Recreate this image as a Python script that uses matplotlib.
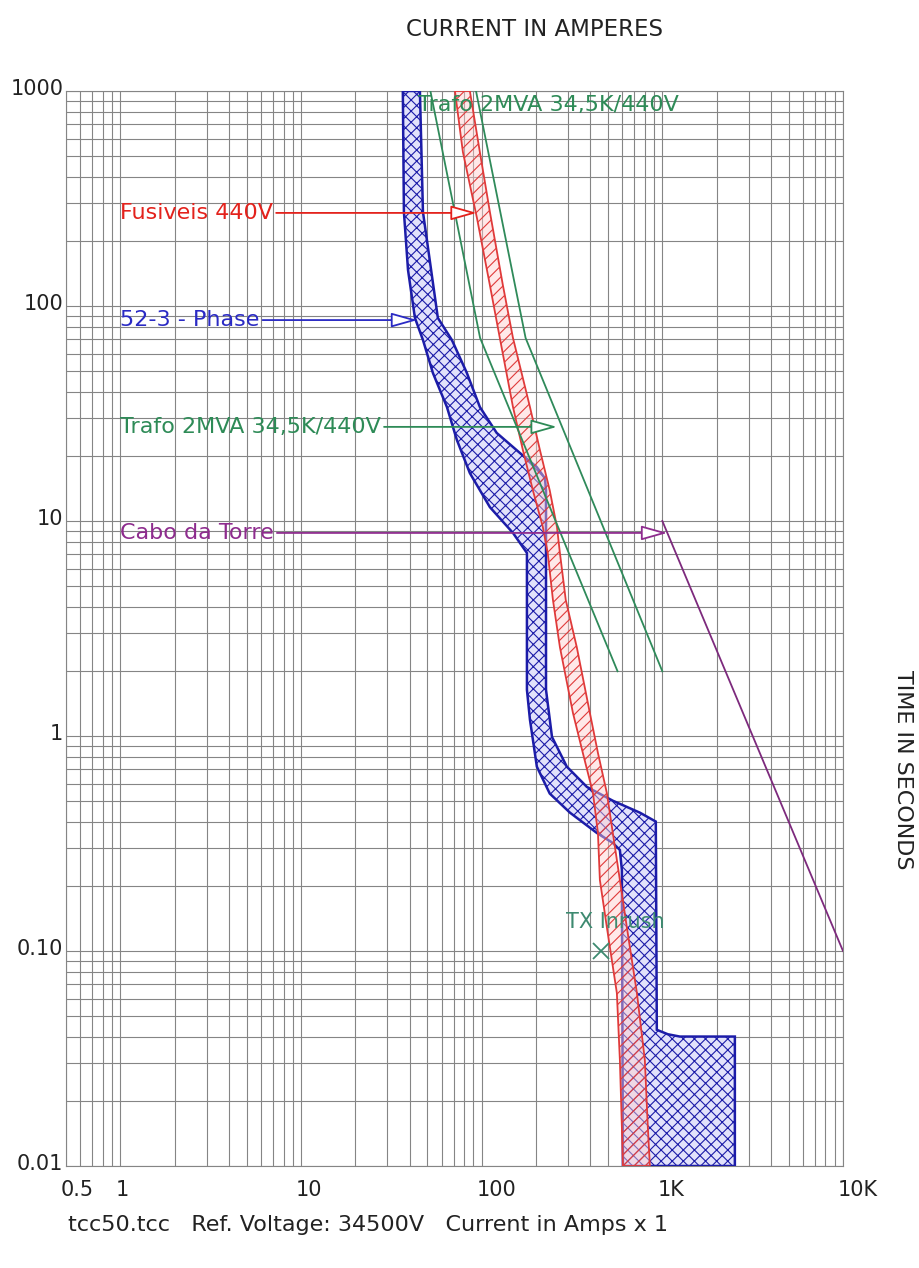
import numpy as np
import matplotlib
matplotlib.use('Agg')
import matplotlib.pyplot as plt
from matplotlib import ticker, transforms

# 52-3 phase relay band (min / max curve), amps vs seconds
blue_lo_amps = [36.6, 37.1, 39.1, 42.7, 47.3, 53.7, 64.2, 72.9, 86, 111, 149, 178, 178, 185, 202, 238, 308, 434, 532, 582, 597, 605]
blue_lo_secs = [1000, 274, 147, 88, 69.5, 48.8, 33.9, 23.8, 16.7, 11.6, 8.8, 7.1, 1.64, 1.19, 0.72, 0.54, 0.44, 0.354, 0.318, 0.295, 0.238, 0.01]
blue_hi_amps = [45.5, 47.3, 57.2, 68.4, 82.8, 97.7, 121, 163, 202, 224, 227, 227, 245, 296, 382, 532, 751, 920, 932, 1073, 1250, 2520, 2520]
blue_hi_secs = [1000, 274, 88, 69.5, 48.8, 33.9, 25.7, 20.7, 17.8, 15.8, 13.9, 1.64, 0.99, 0.72, 0.58, 0.50, 0.44, 0.40, 0.043, 0.041, 0.040, 0.040, 0.01]

# fuses 440V band
red_lo_amps = [71.1, 78.7, 94.1, 111, 126, 149, 169, 192, 218, 232, 248, 271, 320, 363, 413, 440, 451, 493, 560, 582, 597, 605]
red_lo_secs = [1000, 520, 257, 125, 71, 33.9, 21.4, 13.9, 9.38, 7.1, 4.29, 2.59, 1.28, 0.834, 0.543, 0.354, 0.214, 0.129, 0.0638, 0.0311, 0.0152, 0.01]
red_hi_amps = [86, 97.7, 111, 131, 149, 185, 210, 238, 261, 271, 292, 336, 397, 440, 493, 532, 582, 636, 723, 800, 831, 853]
red_hi_secs = [1000, 520, 274, 125, 71, 33.9, 21.4, 13.9, 9.38, 7.1, 4.29, 2.59, 1.28, 0.834, 0.543, 0.354, 0.214, 0.129, 0.0638, 0.0311, 0.0152, 0.01]

# transformer damage curves
trafo_a_amps = [52, 98, 565]
trafo_a_secs = [1000, 71, 2]
trafo_b_amps = [93, 175, 1000]
trafo_b_secs = [1000, 71, 2]

# cable damage
cable_amps = [1000, 10000]
cable_secs = [10, 0.1]

# inrush point
inrush_amps = [460]
inrush_secs = [0.1]

# labels with arrows
label_text = ["Fusiveis 440V", "52-3 - Phase", "Trafo 2MVA 34,5K/440V", "Cabo da Torre"]
label_secs = [271, 86, 27.4, 8.8]
label_tip_amps = [94, 44, 261, 1066]
label_colors = ["#e3221c", "#2a2ac4", "#2e8b57", "#8e2c8e"]

x_ticks = [0.5, 1, 10, 100, 1000, 10000]
x_tick_labels = ["0.5", "1", "10", "100", "1K", "10K"]
y_ticks = [0.01, 0.1, 1, 10, 100, 1000]
y_tick_labels = ["0.01", "0.10", "1", "10", "100", "1000"]

plt.rcParams['hatch.linewidth'] = 0.8

fig = plt.figure(figsize=(9.2, 12.68), dpi=100)
ax = fig.add_axes([66/920, 1-1166/1268, (843-66)/920, (1166-91)/1268])
ax.set_xscale('log')
ax.set_yscale('log')
ax.set_xlim(0.5, 10000)
ax.set_ylim(0.01, 1000)

ax.xaxis.set_minor_locator(ticker.LogLocator(base=10, subs=np.arange(2, 10)))
ax.yaxis.set_minor_locator(ticker.LogLocator(base=10, subs=np.arange(2, 10)))
ax.xaxis.set_minor_formatter(ticker.NullFormatter())
ax.yaxis.set_minor_formatter(ticker.NullFormatter())
ax.set_xticks(x_ticks)
ax.set_xticklabels(x_tick_labels)
ax.set_yticks(y_ticks)
ax.set_yticklabels(y_tick_labels)
ax.tick_params(which='both', length=0, labelsize=15, colors='#222222')
ax.tick_params(axis='x', pad=10)
ax.tick_params(axis='y', pad=2)
ax.grid(which='both', color='#858585', lw=0.8)
ax.set_axisbelow(True)
for s in ax.spines.values():
    s.set_color('#858585')
    s.set_linewidth(0.8)

# shift tick labels a bit like the original
off_x = transforms.ScaledTranslation(-5/100, 0, fig.dpi_scale_trans)
for lbl in ax.get_xticklabels():
    lbl.set_ha('left')
    lbl.set_transform(lbl.get_transform() + off_x)
off_y = transforms.ScaledTranslation(0, 4/100, fig.dpi_scale_trans)
for lbl in ax.get_yticklabels():
    lbl.set_transform(lbl.get_transform() + off_y)

# bands
ax.fill(blue_lo_amps + blue_hi_amps[::-1], blue_lo_secs + blue_hi_secs[::-1],
        facecolor='#e2e2fb', edgecolor='#1c1ca8', hatch='xxx', lw=1.8, zorder=3)
ax.fill(red_lo_amps + red_hi_amps[::-1], red_lo_secs + red_hi_secs[::-1],
        facecolor=(1, 0.8, 0.8, 0.45), edgecolor='#e03a3a', hatch='///', lw=1.3, zorder=4)

ax.plot(trafo_a_amps, trafo_a_secs, color='#2f8a5a', lw=1.3, zorder=5)
ax.plot(trafo_b_amps, trafo_b_secs, color='#2f8a5a', lw=1.3, zorder=5)
ax.plot(cable_amps, cable_secs, color='#7d2a7d', lw=1.3, zorder=5)

ax.plot(inrush_amps, inrush_secs, ls='none', marker='x', ms=11, mew=1.3, color='#3d8a70', zorder=6)
ax.text(546, 0.136, "TX Inrush", ha='center', va='center', fontsize=15, color='#3d8a70', zorder=6)

ax.text(44.4, 861, "Trafo 2MVA 34,5K/440V", ha='left', va='center', fontsize=16, color='#2e8b57', zorder=6)

for txt, t, tip, c in zip(label_text, label_secs, label_tip_amps, label_colors):
    ax.annotate(txt, xy=(tip, t), xytext=(1.0, t), ha='left', va='center', fontsize=16, color=c,
                zorder=7,
                arrowprops=dict(arrowstyle='-|>,head_length=1.6,head_width=0.45', mutation_scale=10,
                                facecolor='white', edgecolor=c, lw=1.3, shrinkA=0, shrinkB=0,
                                relpos=(1, 0.5)))

fig.text(535/920, 1-30/1268, "CURRENT IN AMPERES", ha='center', va='center', fontsize=16.5, color='#222222')
fig.text(903/920, 1-770/1268, "TIME IN SECONDS", ha='center', va='center', rotation=270, fontsize=16, color='#222222')
fig.text(68/920, 1-1225/1268, "tcc50.tcc   Ref. Voltage: 34500V   Current in Amps x 1", ha='left', va='center',
         fontsize=16, color='#222222')

fig.savefig('out.png', dpi=100)
